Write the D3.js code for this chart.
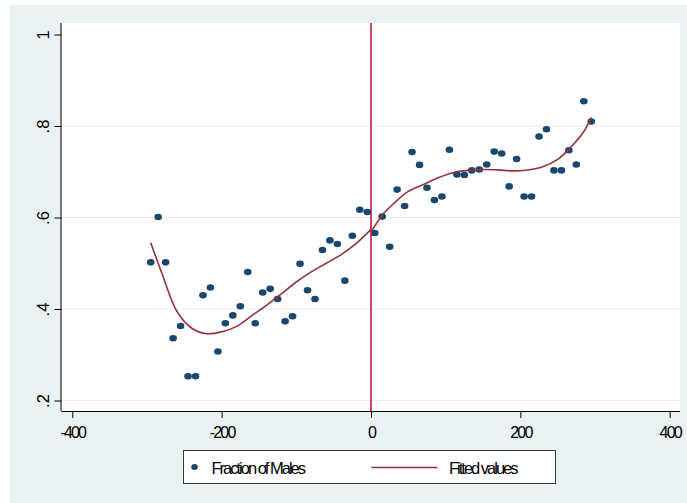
<!DOCTYPE html>
<html>
<head>
<meta charset="utf-8">
<script src="https://cdn.jsdelivr.net/npm/d3@7"></script>
<style>
  body { margin: 0; background: #fff; }
  text { font-family: "Liberation Sans", Arial, sans-serif; fill: #000; }
</style>
</head>
<body>
<svg id="chart" width="687" height="503"></svg>
<script>
const binX = [-295, -285, -275, -265, -255, -245, -235, -225, -215, -205,
    -195, -185, -175, -165, -155, -145, -135, -125, -115, -105,
    -95, -85, -75, -65, -55, -45, -35, -25, -15, -5,
    5, 15, 25, 35, 45, 55, 65, 75, 85, 95,
    105, 115, 125, 135, 145, 155, 165, 175, 185, 195,
    205, 215, 225, 235, 245, 255, 265, 275, 285, 295];

const fractionMales = [0.502, 0.601, 0.502, 0.336, 0.363, 0.253, 0.253, 0.430, 0.447, 0.307,
    0.369, 0.386, 0.406, 0.481, 0.369, 0.436, 0.444, 0.422, 0.373, 0.384,
    0.499, 0.441, 0.422, 0.529, 0.550, 0.542, 0.462, 0.560, 0.617, 0.612,
    0.566, 0.602, 0.536, 0.661, 0.625, 0.743, 0.715, 0.665, 0.638, 0.646,
    0.748, 0.694, 0.693, 0.703, 0.705, 0.716, 0.744, 0.740, 0.668, 0.728,
    0.646, 0.646, 0.777, 0.793, 0.703, 0.703, 0.747, 0.716, 0.854, 0.810];

const fitLeftX = [-295, -280, -260, -240, -220, -200, -180, -160, -140, -120, -100, -80, -60, -40, -20, 0];
const fitLeftY = [0.545, 0.478, 0.395, 0.358, 0.346, 0.350, 0.362, 0.385, 0.408, 0.433, 0.459, 0.481, 0.500, 0.519, 0.543, 0.574];

const fitRightX = [0, 15, 30, 50, 70, 90, 110, 130, 150, 170, 190, 210, 230, 250, 270, 285, 295];
const fitRightY = [0.568, 0.605, 0.630, 0.657, 0.672, 0.687, 0.698, 0.703, 0.705, 0.704, 0.702, 0.704, 0.711, 0.727, 0.758, 0.788, 0.819];

const xTicks = [-400, -200, 0, 200, 400];
const xTickLabels = ["-400", "-200", "0", "200", "400"];
const yTicks = [0.2, 0.4, 0.6, 0.8, 1];
const yTickLabels = [".2", ".4", ".6", ".8", "1"];
const legendLabels = ["Fraction of Males", "Fitted values"];

const navy = "#1a476f", maroon = "#90353b", cutColor = "#c3143a";

const plot = {left: 61.5, right: 680, top: 23, bottom: 411};

const svg = d3.select("#chart");

svg.append("rect")
    .attr("x", 9.5).attr("y", 5)
    .attr("width", 687 - 9.5).attr("height", 503 - 5)
    .attr("fill", "#eaf1f3");

svg.append("rect")
    .attr("x", plot.left).attr("y", plot.top)
    .attr("width", plot.right - plot.left).attr("height", plot.bottom - plot.top)
    .attr("fill", "#fff");

const x = d3.scaleLinear()
    .domain([-400, 400])
    .range([72.3, 669.7]);

const y = d3.scaleLinear()
    .domain([0.2, 1])
    .range([400.5, 34.5]);

// gridlines
svg.append("g")
    .selectAll("line")
    .data(yTicks.filter(d => d < 1))
    .join("line")
    .attr("x1", plot.left).attr("x2", plot.right)
    .attr("y1", d => y(d)).attr("y2", d => y(d))
    .attr("stroke", "#e4ecef")
    .attr("stroke-width", 1.2);

// x axis
const xAxis = svg.append("g")
    .attr("transform", `translate(0,${plot.bottom})`)
    .call(d3.axisBottom(x).tickValues(xTicks).tickSize(7)
        .tickFormat((d, i) => xTickLabels[i]));
xAxis.select(".domain")
    .attr("d", `M${plot.left},0.5H${plot.right}`)
    .attr("stroke", "#000");
xAxis.selectAll(".tick line").attr("stroke", "#000");
xAxis.selectAll(".tick text")
    .attr("y", 27)
    .attr("dy", null)
    .style("font-size", "16px")
    .style("letter-spacing", "-1.8px");

// y axis
const yAxis = svg.append("g")
    .attr("transform", `translate(${plot.left},0)`)
    .call(d3.axisLeft(y).tickValues(yTicks).tickSize(7)
        .tickFormat((d, i) => yTickLabels[i]));
yAxis.select(".domain")
    .attr("d", `M-0.5,${plot.top}V${plot.bottom}`)
    .attr("stroke", "#000");
yAxis.selectAll(".tick line").attr("stroke", "#000");
yAxis.selectAll(".tick text")
    .attr("x", 0)
    .attr("y", -12.8)
    .attr("dy", null)
    .attr("transform", "rotate(-90)")
    .attr("text-anchor", "middle")
    .style("font-size", "16.5px");

// cutoff line
svg.append("line")
    .attr("x1", x(0)).attr("x2", x(0))
    .attr("y1", plot.top).attr("y2", plot.bottom)
    .attr("stroke", cutColor)
    .attr("stroke-width", 1.6);

// scatter
svg.append("g")
    .selectAll("ellipse")
    .data(binX.map((d, i) => ({x: d, y: fractionMales[i]})))
    .join("ellipse")
    .attr("cx", d => x(d.x))
    .attr("cy", d => y(d.y))
    .attr("rx", 3.8)
    .attr("ry", 3.3)
    .attr("fill", navy);

// fitted lines
const line = d3.line()
    .x(d => x(d.x))
    .y(d => y(d.y))
    .curve(d3.curveCatmullRom);

[[fitLeftX, fitLeftY], [fitRightX, fitRightY]].forEach(([xs, ys]) => {
    svg.append("path")
        .datum(xs.map((d, i) => ({x: d, y: ys[i]})))
        .attr("fill", "none")
        .attr("stroke", maroon)
        .attr("stroke-width", 1.6)
        .attr("d", line);
});

// legend
const legend = svg.append("g");
legend.append("rect")
    .attr("x", 183.5).attr("y", 450.5)
    .attr("width", 372).attr("height", 33)
    .attr("fill", "#fff")
    .attr("stroke", "#3a3a3a");
legend.append("ellipse")
    .attr("cx", 194.5).attr("cy", 467)
    .attr("rx", 3.3).attr("ry", 3)
    .attr("fill", navy);
legend.append("line")
    .attr("x1", 371.5).attr("x2", 437.5)
    .attr("y1", 467.5).attr("y2", 467.5)
    .attr("stroke", maroon)
    .attr("stroke-width", 1.4);
legend.selectAll("text")
    .data(legendLabels)
    .join("text")
    .attr("x", (d, i) => i === 0 ? 211.5 : 449)
    .attr("y", 473.5)
    .style("font-size", "16.5px")
    .style("letter-spacing", "-2px")
    .text(d => d);
</script>
</body>
</html>
